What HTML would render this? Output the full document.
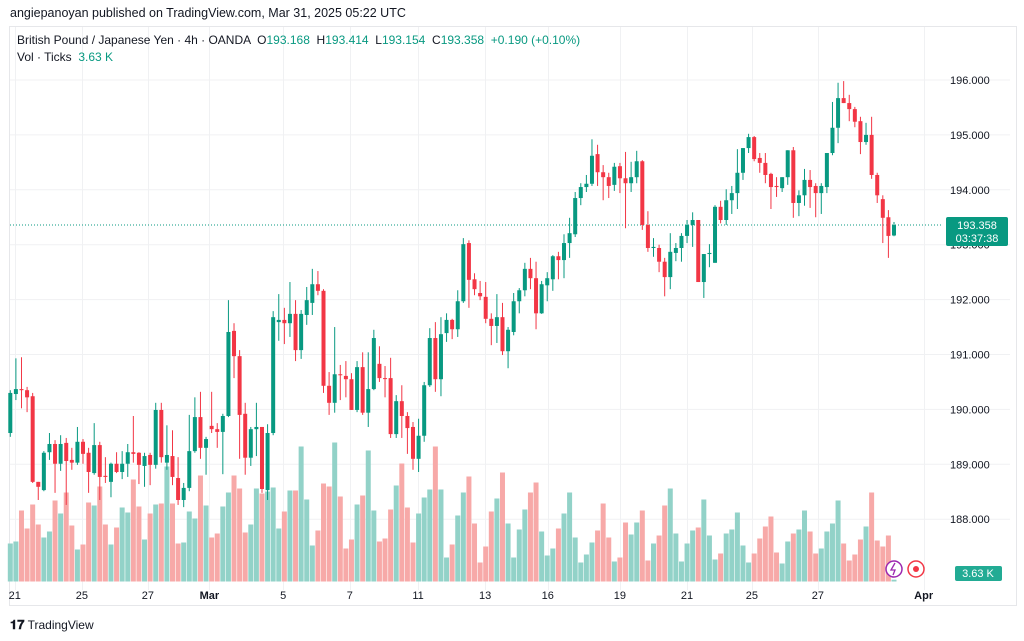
<!DOCTYPE html>
<html><head><meta charset="utf-8">
<style>
html,body{margin:0;padding:0;background:#fff;width:1024px;height:641px;overflow:hidden;font-family:"Liberation Sans",sans-serif;}
#hdr{position:absolute;left:10px;top:6px;font-size:12.5px;color:#131722;}
#box{position:absolute;left:9px;top:26px;width:1008px;height:580px;border:1px solid #e6e7ea;box-sizing:border-box;}
#legend1{position:absolute;left:17px;top:33px;font-size:12px;color:#131722;white-space:nowrap;}
#legend2{position:absolute;left:17px;top:50px;font-size:12px;color:#131722;}
.g{color:#089981;}
#logo{position:absolute;left:10px;top:617px;font-size:12px;color:#131722;}
svg{position:absolute;left:0;top:0;}
</style></head>
<body>
<div id="hdr">angiepanoyan published on TradingView.com, Mar 31, 2025 05:22 UTC</div>
<div id="box"></div>
<svg id="chart" width="1024" height="641"></svg>
<div id="legend1">British Pound / Japanese Yen · 4h · OANDA &nbsp;O<span class="g">193.168</span> &nbsp;H<span class="g">193.414</span> &nbsp;L<span class="g">193.154</span> &nbsp;C<span class="g">193.358</span> &nbsp;<span class="g">+0.190 (+0.10%)</span></div>
<div id="legend2">Vol · Ticks &nbsp;<span class="g">3.63 K</span></div>
<div id="logo"><b style="font-size:13px">𝟏𝟕</b> TradingView</div>
<script>
const opens=[189.57,190.28,190.37,190.35,190.24,188.68,188.53,189.22,189.37,189.01,189.39,189.08,189.03,189.41,189.21,188.84,189.35,188.79,188.68,189.01,188.86,189.01,189.22,189.21,188.97,189.17,188.99,189.99,189.03,189.15,188.75,188.35,188.57,189.24,189.86,189.30,189.70,189.64,189.59,189.88,191.43,190.97,189.92,189.12,189.64,189.68,188.53,189.57,191.59,191.63,191.57,191.74,191.08,191.72,191.94,192.28,192.16,190.43,190.12,190.64,190.61,190.55,189.99,190.77,189.94,190.37,190.83,190.57,190.57,189.55,190.15,189.88,189.68,189.10,189.52,190.44,191.30,190.55,191.39,191.63,191.46,191.97,193.03,192.37,192.12,192.05,191.65,191.52,191.68,191.06,191.41,191.97,192.17,192.56,192.39,191.75,192.26,192.37,192.79,192.72,193.03,193.19,193.85,194.05,194.11,194.65,194.32,194.23,194.09,194.43,194.21,194.12,194.23,194.52,193.36,192.94,192.94,192.69,192.41,192.85,192.94,193.16,193.36,193.45,192.32,192.83,192.67,193.69,193.45,193.81,193.94,194.31,194.76,194.96,194.58,194.49,194.29,194.07,194.03,194.23,194.72,193.76,193.90,194.18,194.07,193.94,194.05,194.67,195.13,195.67,195.58,195.47,195.25,194.87,195.00,194.27,193.83,193.50,193.168];
const highs=[190.35,190.93,190.95,190.41,190.30,188.68,189.24,189.57,189.44,189.53,189.48,189.30,189.68,189.46,189.30,189.75,189.41,189.13,189.03,189.22,189.24,189.37,189.88,189.22,189.21,189.21,190.12,190.12,189.71,189.62,189.13,188.66,189.90,190.22,190.32,189.50,190.32,189.75,189.92,191.99,191.57,191.08,190.12,189.68,190.12,189.68,189.73,191.79,192.10,191.85,192.32,191.99,191.81,192.23,192.56,192.52,192.19,190.68,191.50,190.81,190.88,190.66,190.88,191.04,191.04,191.45,191.15,190.79,190.94,190.26,190.44,189.95,189.77,189.83,190.50,191.48,191.59,191.68,191.75,191.65,192.17,193.12,193.08,192.48,192.34,192.32,191.75,192.10,191.94,191.50,192.12,192.21,192.67,192.76,192.69,192.34,192.50,192.81,192.87,193.19,193.49,193.96,194.12,194.27,194.92,194.82,194.45,194.31,194.49,194.49,194.69,194.51,194.71,194.54,193.61,193.12,193.00,192.76,193.21,193.03,193.21,193.45,193.59,193.45,192.83,193.01,193.72,193.80,194.01,194.07,194.74,194.76,195.02,194.98,194.67,194.67,194.31,194.23,194.23,194.72,194.78,193.99,194.38,194.36,194.12,194.12,194.67,195.60,195.95,195.98,195.73,195.51,195.33,195.22,195.33,194.31,193.90,193.63,193.414];
const lows=[189.50,190.17,190.02,189.95,188.66,188.35,188.51,189.08,188.48,188.88,188.26,188.90,188.99,189.01,188.48,188.81,188.35,188.66,188.40,188.84,188.73,188.77,189.03,188.64,188.59,188.62,188.92,189.03,188.90,188.62,188.26,188.22,188.51,189.21,189.10,188.81,189.57,189.30,188.82,189.86,190.57,189.10,188.81,188.97,189.15,188.48,188.35,189.53,191.25,191.19,191.32,190.88,190.92,191.54,191.72,192.08,190.30,189.90,189.94,190.17,190.22,189.99,189.95,189.90,189.68,190.35,190.50,190.22,189.48,189.48,189.48,189.19,188.90,188.86,189.41,190.41,190.32,190.24,191.23,191.28,191.32,191.94,191.85,192.08,191.99,191.57,191.17,191.21,190.99,190.75,191.35,191.75,192.06,192.19,191.46,191.74,191.97,192.16,192.37,192.39,192.76,193.14,193.72,193.96,194.07,194.07,193.81,193.85,193.98,193.94,193.30,193.96,194.12,193.27,192.87,192.78,192.50,192.06,192.19,192.70,192.69,193.03,192.96,192.32,192.03,192.59,192.67,193.39,193.36,193.56,193.65,194.18,194.67,194.52,194.31,194.12,193.65,193.87,193.96,194.09,193.49,193.52,193.71,193.67,193.50,193.56,193.94,194.63,194.85,195.58,195.25,195.14,194.65,194.82,194.20,193.76,193.03,192.76,193.154];
const closes=[190.30,190.37,190.35,190.22,188.68,188.59,189.21,189.37,189.01,189.37,189.06,189.03,189.41,189.19,188.86,189.35,188.77,188.77,189.01,188.86,189.01,189.22,189.19,188.99,189.15,188.99,189.99,189.13,189.17,188.77,188.35,188.57,189.24,189.86,189.30,189.46,189.64,189.59,189.88,191.41,190.97,189.90,189.12,189.64,189.68,188.55,189.57,191.68,191.63,191.57,191.74,191.08,191.74,191.99,192.28,192.16,190.43,190.12,190.64,190.63,190.55,189.99,190.77,189.94,190.37,191.30,190.57,190.56,189.55,190.15,189.88,189.66,189.10,189.52,190.44,191.30,190.55,191.37,191.63,191.46,191.97,193.01,192.36,192.19,192.06,191.65,191.52,191.68,191.06,191.45,191.97,192.17,192.56,192.39,191.75,192.28,192.39,192.79,192.72,193.03,193.21,193.85,194.05,194.11,194.62,194.32,194.23,194.07,194.42,194.21,194.12,194.23,194.52,193.36,192.94,192.96,192.69,192.41,192.87,192.94,193.16,193.36,193.45,192.32,192.83,192.85,193.69,193.45,193.81,193.94,194.31,194.76,194.96,194.56,194.49,194.27,194.05,194.05,194.23,194.72,193.76,193.90,194.18,194.05,193.94,194.07,194.67,195.13,195.67,195.58,195.47,195.24,194.87,195.00,194.27,193.90,193.49,193.16,193.358];
const volumes=[76,80,142,106,154,114,88,100,162,136,178,112,64,74,158,152,190,114,74,108,148,138,204,150,84,136,154,156,230,156,76,78,140,126,212,152,88,96,150,178,212,186,98,114,186,176,180,188,106,140,182,182,270,164,72,102,196,190,278,170,66,84,154,172,262,142,80,86,144,192,236,148,78,136,168,184,270,184,48,74,132,178,210,116,38,70,140,166,218,116,48,104,144,178,198,100,52,66,106,136,178,88,38,54,78,102,156,88,40,48,118,94,118,142,42,76,92,152,186,96,40,76,102,108,164,92,44,56,96,104,138,72,38,56,86,110,130,58,36,80,96,104,142,100,56,66,100,116,162,76,42,54,84,110,178,82,70,92,3.63];
const tickLabels=["21","25","27","Mar","5","7","11","13","16","19","21","25","27","Apr"];
const tickIdx=[0.8,12.8,24.6,35.6,48.8,60.7,72.9,84.9,96.1,109,121,132.6,144.4,163.3];
const priceTicks=[196,195,194,193,192,191,190,189,188];

const NS="http://www.w3.org/2000/svg";
const svg=document.getElementById('chart');
const X0=10.3, DX=5.593, PLOT_R=942;
const xOf=i=>X0+i*DX;
const yOf=p=>80+(196-p)*54.9;
const VBASE=581.5, VK=0.5;
function mk(tag,attrs,parent){const e=document.createElementNS(NS,tag);for(const k in attrs)e.setAttribute(k,attrs[k]);(parent||svg).appendChild(e);return e;}

priceTicks.forEach(p=>{
  const l=mk('line',{x1:10,x2:1010,y1:yOf(p),y2:yOf(p),stroke:'#f0f1f3','stroke-width':1});
  
  
});
tickIdx.forEach(t=>{
  const x=Math.round(xOf(t))+0.5;
  const l=mk('line',{x1:x,x2:x,y1:27,y2:590,stroke:'#f0f1f3','stroke-width':1});
  
  
});

volumes.forEach((v,i)=>{
  const up=closes[i]>=opens[i];
  const h=v*VK;
  const r=mk('rect',{x:xOf(i)-2.5,y:VBASE-h,width:5,height:h,fill:up?'#92d2c8':'#f7a9a8'});
  
  
});
const lp=closes[closes.length-1];
mk('line',{x1:10,x2:PLOT_R,y1:yOf(lp),y2:yOf(lp),stroke:'#089981','stroke-width':1,'stroke-dasharray':'1,2'});
opens.forEach((o,i)=>{
  const c=closes[i],up=c>=o,col=up?'#089981':'#f23645';
  const x=xOf(i);
  const g=mk('g',{});
  
  
  mk('line',{x1:x,x2:x,y1:yOf(highs[i]),y2:yOf(lows[i]),stroke:col,'stroke-width':1},g);
  const yt=yOf(Math.max(o,c)),yb=yOf(Math.min(o,c));
  mk('rect',{x:x-2,y:yt,width:4,height:Math.max(1,yb-yt),fill:col},g);
});
priceTicks.forEach(p=>{
  const t=mk('text',{x:950,y:yOf(p)+4,'font-size':11,fill:'#131722','font-family':'Liberation Sans, sans-serif'});
  t.textContent=p.toFixed(3);
  
  
});
tickLabels.forEach((s,i)=>{
  const t=mk('text',{x:xOf(tickIdx[i]),y:599,'font-size':11,'text-anchor':'middle',fill:'#131722','font-weight':(s==='Mar'||s==='Apr')?'bold':'normal','font-family':'Liberation Sans, sans-serif'});
  t.textContent=s;
  
  
});
const ty=yOf(lp);
const tag=mk('rect',{x:946,y:ty-8,width:62,height:29,rx:2,fill:'#089981'});


const t1=mk('text',{x:977,y:ty+4,'font-size':11,'text-anchor':'middle',fill:'#fff','font-family':'Liberation Sans, sans-serif'});
t1.textContent=lp.toFixed(3);
const t2=mk('text',{x:977,y:ty+17,'font-size':11,'text-anchor':'middle',fill:'#fff','font-family':'Liberation Sans, sans-serif'});
t2.textContent='03:37:38';
const vt=mk('rect',{x:955,y:566,width:47,height:15,rx:2,fill:'#22ab94'});


const vtt=mk('text',{x:978,y:577,'font-size':11,'text-anchor':'middle',fill:'#fff','font-family':'Liberation Sans, sans-serif'});
vtt.textContent='3.63 K';
const ic1=mk('circle',{cx:894,cy:569,r:8,fill:'#fff',stroke:'#9c27b0','stroke-width':1.5});


mk('path',{d:'M895 563 L891 570 L895 570 L893 575',stroke:'#9c27b0','stroke-width':1.3,fill:'none'});
const ic2=mk('circle',{cx:916,cy:569,r:8,fill:'#fff',stroke:'#f23645','stroke-width':1.5});


mk('circle',{cx:916,cy:569,r:3,fill:'#f23645'});
</script>
</body></html>
